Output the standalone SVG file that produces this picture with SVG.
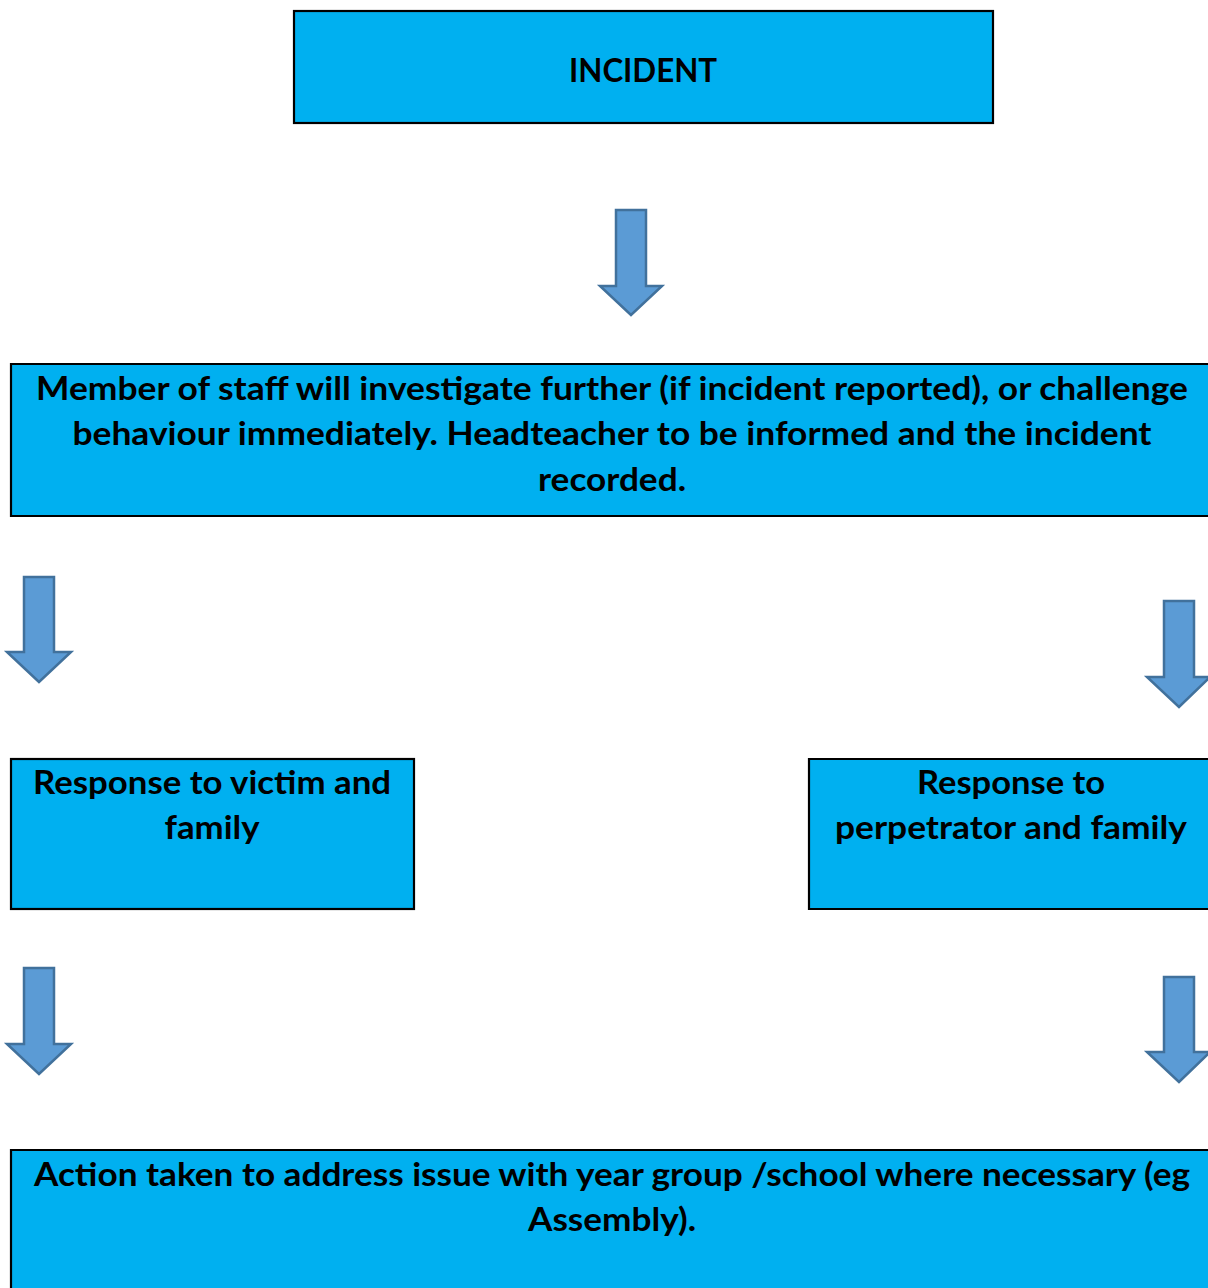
<svg xmlns="http://www.w3.org/2000/svg" width="1208" height="1288" viewBox="0 0 1208 1288">
<style>
.box{fill:#00B0F0;stroke:#000;stroke-width:2.2}
.t{font-family:Lato,"Open Sans","Liberation Sans",sans-serif;font-weight:bold;font-size:33px;fill:#000;text-anchor:middle}
.arr{fill:#5B9BD5;stroke:#41719C;stroke-width:2.5;stroke-linejoin:miter}
</style>
<rect width="1208" height="1288" fill="#fff"/>
<g id="incident">
<rect class="box" x="294" y="11" width="699" height="112"/>
<text class="t" x="643" y="82" textLength="148" lengthAdjust="spacingAndGlyphs">INCIDENT</text>
</g>
<g id="investigate">
<path class="box" d="M1208,364 H11 V516 H1208"/>
<text class="t" x="612" y="400" textLength="1152" lengthAdjust="spacingAndGlyphs">Member of staff will investigate further (if incident reported), or challenge</text>
<text class="t" x="612" y="445" textLength="1079" lengthAdjust="spacingAndGlyphs">behaviour immediately. Headteacher to be informed and the incident</text>
<text class="t" x="612" y="491" textLength="148" lengthAdjust="spacingAndGlyphs">recorded.</text>
</g>
<g id="victim">
<rect class="box" x="11" y="759" width="403" height="150"/>
<text class="t" x="212" y="794" textLength="358" lengthAdjust="spacingAndGlyphs">Response to victim and</text>
<text class="t" x="212" y="839" textLength="95" lengthAdjust="spacingAndGlyphs">family</text>
</g>
<g id="perpetrator">
<path class="box" d="M1208,759 H809 V909 H1208"/>
<text class="t" x="1011" y="794" textLength="188" lengthAdjust="spacingAndGlyphs">Response to</text>
<text class="t" x="1011" y="839" textLength="352" lengthAdjust="spacingAndGlyphs">perpetrator and family</text>
</g>
<g id="action">
<path class="box" d="M1208,1150 H11 V1300 H1208"/>
<text class="t" x="612" y="1186" textLength="1156" lengthAdjust="spacingAndGlyphs">Action taken to address issue with year group /school where necessary (eg</text>
<text class="t" x="612" y="1231" textLength="168" lengthAdjust="spacingAndGlyphs">Assembly).</text>
</g>
<g id="connectors">
<polygon class="arr" points="616,210 646,210 646,286 662,286 631,315 600,286 616,286"/>
<polygon class="arr" points="24,577 54,577 54,652 71,652 39,682 7,652 24,652"/>
<polygon class="arr" points="1164,601 1194,601 1194,677 1210,677 1179,707 1147,677 1164,677"/>
<polygon class="arr" points="24,968 54,968 54,1044 71,1044 39,1074 7,1044 24,1044"/>
<polygon class="arr" points="1164,977 1194,977 1194,1052 1210,1052 1179,1082 1147,1052 1164,1052"/>
</g>
</svg>
